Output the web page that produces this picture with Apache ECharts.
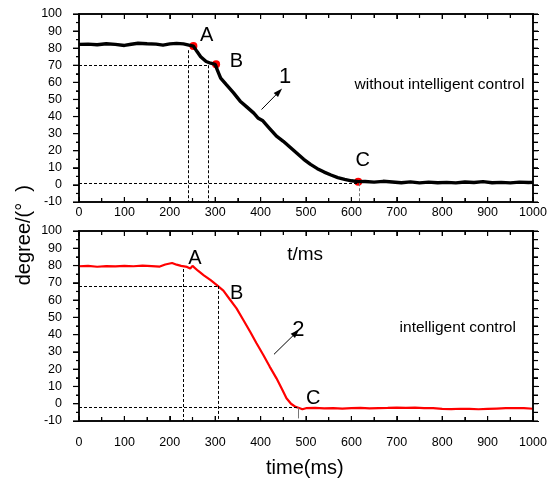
<!DOCTYPE html>
<html>
<head>
<meta charset="utf-8">
<script src="https://cdn.jsdelivr.net/npm/echarts@6/dist/echarts.min.js"></script>
<style>
  html, body { margin: 0; padding: 0; background: #fff; }
  .chart { position: absolute; left: 0; top: 0; width: 550px; height: 487px; }
</style>
</head>
<body>
<div id="chartTop" class="chart"></div>
<div id="chartBottom" class="chart"></div>
<script>
// measured curves, [time ms, degree]
const curveNoControl = [
  [0, 82.2], [20, 82.4], [40, 82.0], [60, 82.6], [80, 82.2], [100, 81.6], [115, 82.3], [130, 82.9],
  [150, 82.6], [170, 82.4], [185, 81.8], [200, 82.5], [215, 82.8], [230, 82.5], [242, 81.8], [252, 81.2],
  [260, 78], [268, 75], [280, 72.2], [290, 71.2], [300, 70.5], [305, 67], [312, 62.5], [325, 58.5],
  [340, 54], [355, 49], [370, 45.5], [385, 42], [395, 39], [405, 37.5], [420, 33], [435, 28.5],
  [450, 25.5], [465, 22], [480, 18.5], [495, 15], [510, 12], [525, 9.5], [540, 7.5], [555, 5.8],
  [570, 4.3], [585, 3.2], [600, 2.4], [615, 1.9], [630, 2.0], [650, 1.6], [670, 2.1], [690, 1.7],
  [710, 1.3], [730, 1.8], [750, 1.2], [770, 1.6], [790, 1.3], [810, 1.5], [830, 1.2], [850, 1.7],
  [870, 1.4], [890, 1.9], [910, 1.3], [930, 1.5], [950, 1.2], [970, 1.6], [990, 1.4], [1000, 1.5]
];
const curveControl = [
  [0, 79.6], [20, 79.8], [40, 79.3], [60, 79.7], [80, 79.5], [100, 79.8], [120, 79.6], [140, 80.0],
  [160, 79.7], [178, 79.4], [190, 80.6], [205, 81.5], [215, 80.5], [225, 79.8], [238, 79.2], [245, 78.3],
  [250, 79.8], [262, 77], [275, 74.3], [290, 71.5], [303, 68.8], [318, 65.5], [332, 60.5], [347, 55.2],
  [362, 48.5], [377, 41.7], [391, 35], [406, 28.2], [420, 21.5], [435, 14.7], [447, 8.5], [457, 3.2],
  [467, 0], [477, -1.8], [485, -2.5], [492, -3.2], [500, -2.6], [520, -2.4], [540, -2.7], [560, -2.5],
  [580, -2.8], [600, -2.6], [620, -2.4], [640, -2.7], [660, -2.5], [680, -2.4], [700, -2.2], [720, -2.4],
  [740, -2.3], [760, -2.5], [780, -2.6], [800, -3.0], [820, -3.1], [840, -2.9], [860, -3.0], [880, -3.2],
  [900, -3.0], [920, -2.8], [940, -2.6], [960, -2.5], [980, -2.6], [1000, -2.9]
];
const pointsNoControl = [[252, 81.3], [302, 70.6], [615, 1.9]];

// guide lines
const guidesTop = [
  [[0, 70], [285, 70]], [[240.8, 78.8], [240.8, -10]], [[285, 70], [285, -10]], [[0, 1], [615, 1]]
];
const guidesTopGrey = [[[617.5, 1], [617.5, -10]]];
const guidesBottom = [
  [[0, 68.2], [307.6, 68.2]], [[229.8, 78], [229.8, -10]], [[307.6, 68.2], [307.6, -10]], [[0, -2.1], [483, -2.1]]
];
const guidesBottomGrey = [[[483, -2.3], [483, -8.5]]];
const arrowTop = [[402, 44.1], [440.5, 54.5]];
const arrowBottom = [[429.5, 28.6], [478, 41.1]];

// annotations [x, y, text, size, align]
const notesTop = [
  [281, 87.5, 'A', 20, 'center'], [347, 72, 'B', 20, 'center'], [454, 63.3, '1', 22, 'center'],
  [625, 14.4, 'C', 20, 'center'], [606, 58.4, 'without intelligent control', 15.5, 'left']
];
const notesBottom = [
  [255.5, 84.2, 'A', 20, 'center'], [347.4, 63.9, 'B', 20, 'center'], [516, 3.1, 'C', 20, 'center'],
  [483, 42.7, '2', 22, 'center'], [705, 44.2, 'intelligent control', 15.5, 'left'], [498, 86.2, 't/ms', 19, 'center']
];

const xTicks = { min: 0, max: 1000, interval: 100 };
const yTicks = { min: -10, max: 100, interval: 10 };

const FONT = 'Liberation Sans';

function xAxis(showLabel, labelMargin) {
  const axis = {
    type: 'value', min: xTicks.min, max: xTicks.max, interval: xTicks.interval,
    axisLine: { show: true, onZero: false, lineStyle: { color: '#000', width: 1.5 } },
    axisTick: { show: true, inside: true, lineStyle: { color: '#000' } },
    minorTick: { show: true, splitNumber: 2, length: 4 },
    splitLine: { show: false },
    axisLabel: showLabel
      ? { margin: labelMargin, color: '#000', fontSize: 12.5, fontFamily: FONT, formatter: v => String(v) }
      : { show: false }
  };
  if (!showLabel) axis.position = 'top';
  return axis;
}

function yAxis(showLabel) {
  const axis = {
    type: 'value', min: yTicks.min, max: yTicks.max, interval: yTicks.interval,
    axisLine: { show: true, onZero: false, lineStyle: { color: '#000', width: 1.5 } },
    axisTick: { show: true, length: 6, lineStyle: { color: '#000' } },
    minorTick: { show: true, splitNumber: 2, length: showLabel ? 3 : 5 },
    splitLine: { show: false },
    axisLabel: showLabel
      ? { margin: 17, color: '#000', fontSize: 12.5, fontFamily: FONT }
      : { show: false }
  };
  if (!showLabel) axis.position = 'right';
  return axis;
}

function guideSeries(segs, color, type) {
  return {
    type: 'line', data: [], silent: true,
    markLine: {
      silent: true, symbol: 'none', label: { show: false },
      lineStyle: { color, type, width: 1 },
      data: segs.map(s => [{ coord: s[0] }, { coord: s[1] }])
    }
  };
}

// arrow = shaft line + rotated triangle head
function arrowSeries(seg, rotate) {
  return [
    {
      type: 'line', data: seg, showSymbol: false, silent: true,
      lineStyle: { color: '#000', width: 1 }
    },
    {
      type: 'scatter', data: [seg[1]], symbol: 'triangle', symbolSize: [6, 9], symbolRotate: rotate,
      silent: true, itemStyle: { color: '#000', opacity: 1 }
    }
  ];
}

function noteSeries(notes) {
  return {
    type: 'scatter', symbolSize: 1, silent: true,
    itemStyle: { color: 'rgba(0,0,0,0)', opacity: 1 },
    data: notes.map(n => ({
      value: [n[0], n[1]],
      label: {
        show: true, formatter: n[2], position: n[4] === 'left' ? 'right' : 'inside', distance: 0,
        fontSize: n[3], color: '#000', fontFamily: FONT
      }
    }))
  };
}

function panelOption(grid, labelMargin, series, graphic) {
  return {
    animation: false,
    grid: [grid],
    xAxis: [xAxis(true, labelMargin), xAxis(false)],
    yAxis: [yAxis(true), yAxis(false)],
    graphic: graphic || [],
    series
  };
}

// frame and ticks placed through the chart's own scales (convertToPixel)
function frameGraphics(chart) {
  const px = (x, y) => chart.convertToPixel({ gridIndex: 0 }, [x, y]);
  const tl = px(xTicks.min, yTicks.max);
  const br = px(xTicks.max, yTicks.min);
  const els = [{
    type: 'rect', silent: true, z: 100,
    shape: { x: tl[0], y: tl[1], width: br[0] - tl[0], height: br[1] - tl[1] },
    style: { fill: 'none', stroke: '#000', lineWidth: 1.5 }
  }];
  const seg = (x1, y1, x2, y2) => els.push({
    type: 'line', silent: true, z: 100,
    shape: { x1, y1, x2, y2 }, style: { stroke: '#000', lineWidth: 1.2 }
  });
  const xStep = xTicks.interval / 2;
  for (let v = xTicks.min; v <= xTicks.max; v += xStep) {
    const major = (v - xTicks.min) % xTicks.interval === 0;
    const x = px(v, yTicks.min)[0];
    const len = major ? 5 : 4;
    seg(x, br[1], x, br[1] - len);
    seg(x, tl[1], x, tl[1] + len);
  }
  const yStep = yTicks.interval / 2;
  for (let v = yTicks.min; v <= yTicks.max; v += yStep) {
    const major = (v - yTicks.min) % yTicks.interval === 0;
    const y = px(xTicks.min, v)[1];
    seg(tl[0], y, tl[0] - (major ? 6 : 3), y);
    seg(br[0], y, br[0] + 5, y);
  }
  return els;
}

const chartTop = echarts.init(document.getElementById('chartTop'));
chartTop.setOption(panelOption(
  { left: 79, top: 14, right: 17, bottom: 285 }, 4,
  [
    guideSeries(guidesTop, '#000', [3, 2]),
    guideSeries(guidesTopGrey, '#777', [3, 2]),
    {
      type: 'line', data: curveNoControl, showSymbol: false,
      lineStyle: { color: '#000', width: 3.4 }
    },
    {
      type: 'scatter', data: pointsNoControl, symbolSize: 8,
      itemStyle: { color: '#ff0000', opacity: 1 }
    },
    ...arrowSeries(arrowTop, -44),
    noteSeries(notesTop)
  ]
));
chartTop.setOption({ graphic: frameGraphics(chartTop) });

const titleGraphics = [
  {
    type: 'text', left: 14, top: 185, rotation: Math.PI / 2,
    style: { text: 'degree/(°  )', fontSize: 20, fontFamily: FONT, fill: '#000' }
  },
  {
    type: 'text', left: 266, top: 458,
    style: { text: 'time(ms)', fontSize: 20, fontFamily: FONT, fill: '#000' }
  }
];
const chartBottom = echarts.init(document.getElementById('chartBottom'));
chartBottom.setOption(panelOption(
  { left: 79, top: 231, right: 17, bottom: 66 }, 15,
  [
    guideSeries(guidesBottom, '#000', [3, 2]),
    guideSeries(guidesBottomGrey, '#777', 'solid'),
    {
      type: 'line', data: curveControl, showSymbol: false,
      lineStyle: { color: '#ff0000', width: 2.2 }
    },
    ...arrowSeries(arrowBottom, -45),
    noteSeries(notesBottom)
  ],
  titleGraphics
));
chartBottom.setOption({ graphic: titleGraphics.concat(frameGraphics(chartBottom)) });
</script>
</body>
</html>
